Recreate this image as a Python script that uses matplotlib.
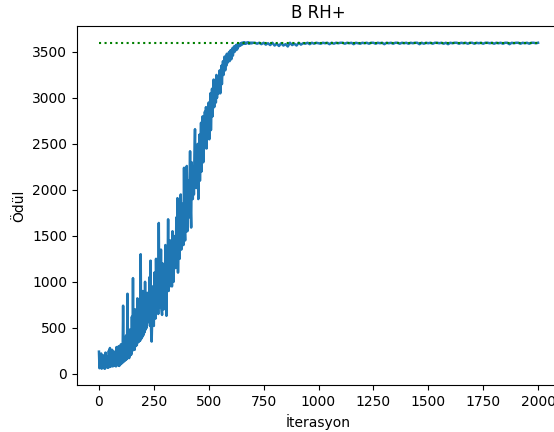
import numpy as np
import matplotlib
matplotlib.use('Agg')
import matplotlib.pyplot as plt

# rising part, every 2.5 iterations (0..700)
rise_iter = np.arange(0, 702.5, 2.5)
rise_reward = [
    240, 60, 180, 70, 220, 55, 120, 65, 200, 60, 150, 55, 230, 80, 190, 70, 160, 65, 250, 75,
    280, 75, 200, 90, 260, 80, 150, 85, 240, 95, 170, 80, 290, 100, 210, 90, 300, 85, 180, 100,
    320, 110, 250, 120, 740, 130, 400, 140, 280, 150, 420, 160, 870, 180, 350, 170, 480, 200, 300, 210,
    620, 250, 1040, 280, 500, 260, 700, 300, 550, 310, 820, 340, 600, 350, 760, 360, 1300, 380, 700, 400,
    900, 420, 700, 450, 1000, 480, 780, 500, 880, 560, 650, 600, 1050, 520, 1230, 480, 350, 600, 950, 560,
    520, 1100, 700, 600, 1250, 800, 680, 1000, 650, 1640, 720, 1100, 800, 1350, 700, 640, 1200, 850, 700, 1150,
    780, 1400, 900, 630, 1300, 1100, 1680, 900, 1200, 950, 1450, 1000, 1300, 950, 1550, 1100, 1000, 1400, 1150, 1500,
    1150, 1700, 1300, 1910, 1100, 1500, 1750, 1250, 1600, 1950, 1350, 1700, 1500, 1850, 1400, 2240, 1600, 1450, 1900, 1550,
    2260, 1550, 1900, 2100, 1700, 2000, 2420, 1800, 1590, 2300, 2050, 1900, 2200, 1950, 2400, 2660, 2100, 2020, 2350, 2200,
    2500, 1900, 2300, 2600, 2100, 2400, 2730, 2200, 2500, 2800, 2300, 2600, 2450, 2850, 2500, 2900, 2450, 2700, 2600, 2850,
    2950, 2550, 2800, 3050, 2650, 2900, 3100, 2800, 3000, 3200, 2900, 3050, 3150, 2950, 3250, 3000, 3100, 3200, 3050, 3250,
    3300, 3050, 3200, 3350, 3150, 3300, 3400, 3250, 3350, 3450, 3300, 3400, 3350, 3480, 3380, 3450, 3420, 3500, 3400, 3480,
    3520, 3420, 3500, 3540, 3460, 3520, 3560, 3500, 3540, 3570, 3520, 3580, 3530, 3570, 3590, 3560, 3580, 3590, 3570, 3595,
    3600, 3580, 3600, 3590, 3605, 3595, 3600, 3590, 3600, 3595, 3600, 3605, 3595, 3600, 3590, 3600, 3600, 3595, 3600, 3595,
    3600,
]

# flat part, every 10 iterations (710..2000)
flat_iter = np.arange(710, 2001, 10)
flat_reward = [
    3600, 3590, 3600, 3585, 3600, 3580, 3595, 3575, 3600, 3570,
    3590, 3565, 3595, 3570, 3585, 3560, 3600, 3575, 3590, 3570,
    3600, 3580, 3595, 3590, 3600, 3585, 3600, 3590, 3600, 3595,
    3590, 3600, 3595, 3600, 3585, 3600, 3590, 3600, 3595, 3600,
    3600, 3590, 3600, 3595, 3600, 3585, 3600, 3595, 3590, 3600,
    3595, 3600, 3590, 3600, 3600, 3590, 3600, 3595, 3600, 3585,
    3600, 3595, 3600, 3590, 3600, 3600, 3590, 3600, 3595, 3600,
    3590, 3600, 3595, 3600, 3600, 3585, 3600, 3590, 3600, 3595,
    3600, 3590, 3600, 3600, 3595, 3600, 3590, 3600, 3585, 3600,
    3595, 3600, 3600, 3590, 3600, 3595, 3600, 3590, 3600, 3600,
    3590, 3600, 3595, 3600, 3590, 3600, 3600, 3595, 3600, 3590,
    3600, 3595, 3600, 3590, 3600, 3600, 3585, 3600, 3595, 3600,
    3600, 3590, 3600, 3595, 3600, 3590, 3600, 3600, 3595, 3600,
]

target = 3600

x = np.concatenate([rise_iter, flat_iter])
y = np.concatenate([rise_reward, flat_reward])

fig = plt.figure(figsize=(5.54, 4.32), dpi=100)
ax = fig.add_axes([77 / 554, 47 / 432, 483 / 554, 359 / 432])
ax.plot(x, y, color='tab:blue', linewidth=1.8)
ax.plot([x[0], x[-1]], [target, target], color='green', linestyle=':', linewidth=1.5)
ax.set_title('B RH+')
ax.set_xlabel('İterasyon')
ax.set_ylabel('Ödül')
ax.set_xticks([0, 250, 500, 750, 1000, 1250, 1500, 1750, 2000])
ax.set_yticks([0, 500, 1000, 1500, 2000, 2500, 3000, 3500])
fig.savefig('out.png', dpi=100)
